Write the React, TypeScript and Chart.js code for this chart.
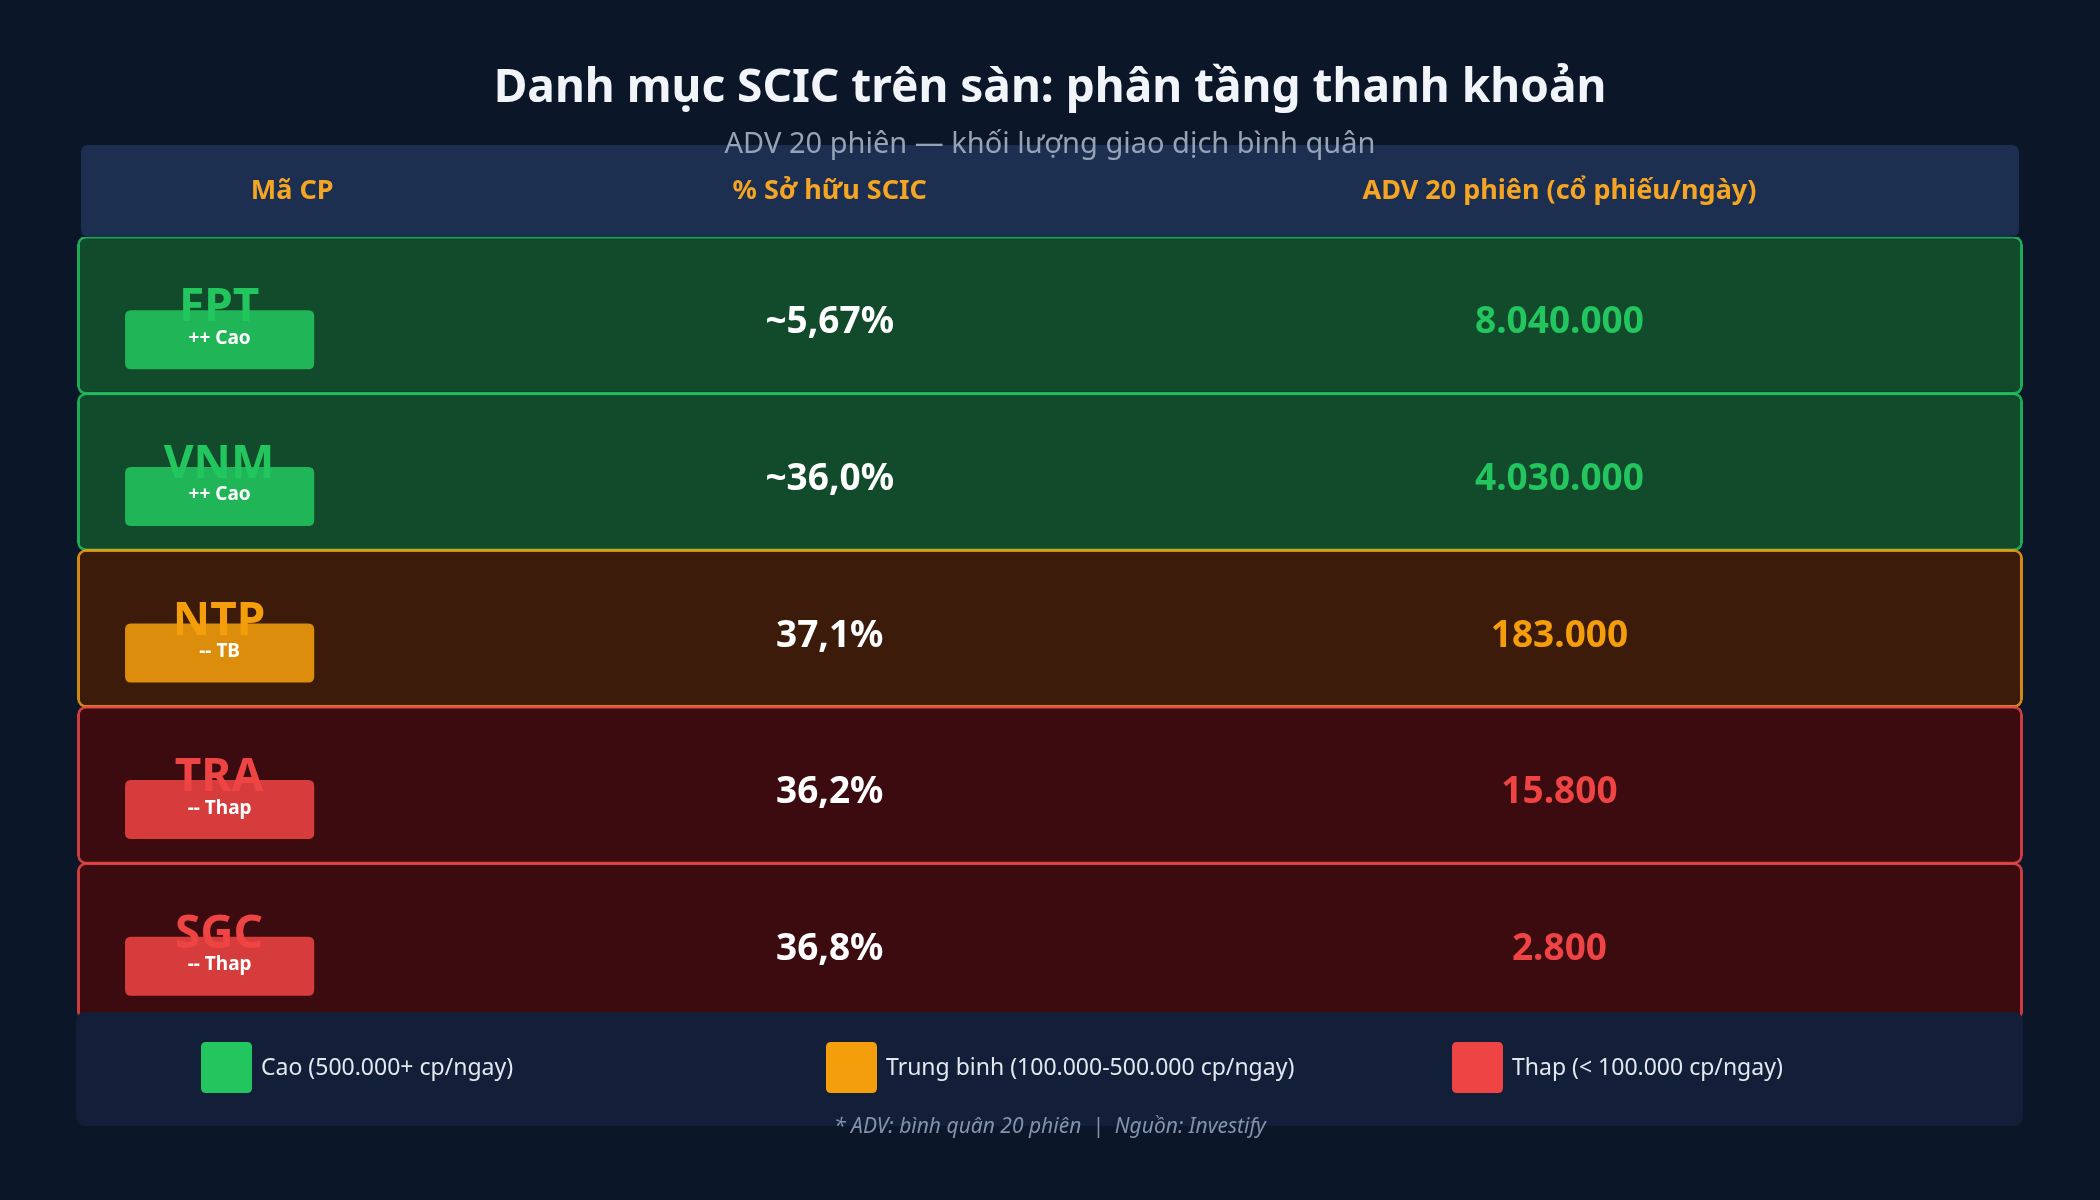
import React, { useEffect, useRef } from "react";
import { Chart, registerables } from "chart.js";

Chart.register(...registerables);

// ---------------- data ----------------
const TITLE = "Danh mục SCIC trên sàn: phân tầng thanh khoản";
const SUBTITLE = "ADV 20 phiên — khối lượng giao dịch bình quân";
const HEADERS = ["Mã CP", "% Sở hữu SCIC", "ADV 20 phiên (cổ phiếu/ngày)"];
const TICKERS = ["FPT", "VNM", "NTP", "TRA", "SGC"];
const OWNERSHIP = [5.67, 36.0, 37.1, 36.2, 36.8];
const OWNERSHIP_APPROX = [true, true, false, false, false];
const OWNERSHIP_DECIMALS = [2, 1, 1, 1, 1];
const ADV = [8040000, 4030000, 183000, 15800, 2800];
const TIER_THRESHOLDS = [500000, 100000];
const TIER_BADGES = ["++ Cao", "-- TB", "-- Thap"];
const TIER_LEGEND = [
  "Cao (500.000+ cp/ngay)",
  "Trung binh (100.000-500.000 cp/ngay)",
  "Thap (< 100.000 cp/ngay)",
];
const FOOTNOTE = "* ADV: bình quân 20 phiên  |  Nguồn: Investify";

// ---------------- styles ----------------
const FONT = "'Noto Sans', 'DejaVu Sans', sans-serif";
const PAGE_BG = "#0b1628";
const HEADER_BG = "#1d2f50";
const LEGEND_BG = "#131f38";
const HEADER_TEXT = "#f5a524";
const TITLE_COLOR = "#f1f5f9";
const SUBTITLE_COLOR = "#94a3b8";
const TIER_COLOR = ["#22c55e", "#f59e0b", "#ef4444"];
const TIER_ROW_BG = ["#124a2c", "#3c1b0a", "#3b0b10"];
const TIER_ROW_BORDER = ["rgba(34,197,94,0.85)", "rgba(245,158,11,0.85)", "rgba(239,68,68,0.85)"];
const TIER_BADGE_BG = ["rgba(34,197,94,0.87)", "rgba(245,158,11,0.87)", "rgba(239,68,68,0.87)"];

// column positions on the 0..100 x scale
const COL_TICKER = 7.3;
const COL_HEADER = [11.06, 38.68, 76.18];
const COL_PCT = 38.68;
const COL_ADV = 76.18;
const BADGE_FROM = 2.47;
const BADGE_TO = 12.19;

const tierOf = (v: number) => (v >= TIER_THRESHOLDS[0] ? 0 : v >= TIER_THRESHOLDS[1] ? 1 : 2);
const fmtInt = (n: number) => String(n).replace(/\B(?=(\d{3})+(?!\d))/g, ".");
const fmtPct = (i: number) =>
  (OWNERSHIP_APPROX[i] ? "~" : "") + OWNERSHIP[i].toFixed(OWNERSHIP_DECIMALS[i]).replace(".", ",") + "%";

function rr(ctx: CanvasRenderingContext2D, x: number, y: number, w: number, h: number, r: number) {
  ctx.beginPath();
  ctx.moveTo(x + r, y);
  ctx.lineTo(x + w - r, y);
  ctx.quadraticCurveTo(x + w, y, x + w, y + r);
  ctx.lineTo(x + w, y + h - r);
  ctx.quadraticCurveTo(x + w, y + h, x + w - r, y + h);
  ctx.lineTo(x + r, y + h);
  ctx.quadraticCurveTo(x, y + h, x, y + h - r);
  ctx.lineTo(x, y + r);
  ctx.quadraticCurveTo(x, y, x + r, y);
  ctx.closePath();
}

const tablePlugin = {
  id: "tableDecor",
  beforeDraw(chart: any) {
    const { ctx, width, height } = chart;
    const xs = chart.scales.x;
    ctx.save();
    ctx.fillStyle = PAGE_BG;
    ctx.fillRect(0, 0, width, height);

    ctx.textAlign = "center";
    ctx.textBaseline = "alphabetic";
    ctx.fillStyle = TITLE_COLOR;
    ctx.font = `bold 46px ${FONT}`;
    ctx.fillText(TITLE, width / 2, 102);

    // header bar
    const l = xs.getPixelForValue(0) + 4;
    const r = xs.getPixelForValue(100) - 4;
    ctx.fillStyle = HEADER_BG;
    rr(ctx, l, 145, r - l, 92, 8);
    ctx.fill();
    ctx.fillStyle = HEADER_TEXT;
    ctx.font = `bold 27px ${FONT}`;
    HEADERS.forEach((h, i) => ctx.fillText(h, xs.getPixelForValue(COL_HEADER[i]), 199));

    ctx.fillStyle = SUBTITLE_COLOR;
    ctx.font = `29px ${FONT}`;
    ctx.fillText(SUBTITLE, width / 2, 153);
    ctx.restore();
  },
  afterDatasetsDraw(chart: any) {
    const { ctx } = chart;
    const xs = chart.scales.x;
    const ys = chart.scales.y;
    ctx.save();
    ctx.textAlign = "center";
    ctx.textBaseline = "alphabetic";
    TICKERS.forEach((t, i) => {
      const tier = tierOf(ADV[i]);
      const c = ys.getPixelForValue(i);
      // ticker
      ctx.fillStyle = TIER_COLOR[tier];
      ctx.font = `bold 46px ${FONT}`;
      ctx.fillText(t, xs.getPixelForValue(COL_TICKER), c + 6);
      // badge
      const bl = xs.getPixelForValue(BADGE_FROM);
      const br = xs.getPixelForValue(BADGE_TO);
      ctx.fillStyle = TIER_BADGE_BG[tier];
      rr(ctx, bl, c - 5, br - bl, 59, 6);
      ctx.fill();
      ctx.fillStyle = "#ffffff";
      ctx.font = `bold 19px ${FONT}`;
      ctx.textBaseline = "middle";
      ctx.fillText(TIER_BADGES[tier], (bl + br) / 2, c + 23);
      ctx.textBaseline = "alphabetic";
      // ownership
      ctx.font = `bold 37px ${FONT}`;
      ctx.fillStyle = "#ffffff";
      ctx.fillText(fmtPct(i), xs.getPixelForValue(COL_PCT), c + 18);
      // ADV
      ctx.fillStyle = TIER_COLOR[tier];
      ctx.fillText(fmtInt(ADV[i]), xs.getPixelForValue(COL_ADV), c + 18);
    });
    ctx.restore();
  },
  afterDraw(chart: any) {
    const { ctx, width } = chart;
    ctx.save();
    ctx.fillStyle = LEGEND_BG;
    rr(ctx, 76, 1012, 1947, 114, 10);
    ctx.fill();
    const sqX = [201, 826, 1452];
    ctx.textAlign = "left";
    ctx.textBaseline = "alphabetic";
    ctx.font = `23px ${FONT}`;
    TIER_LEGEND.forEach((lab, i) => {
      ctx.fillStyle = TIER_COLOR[i];
      rr(ctx, sqX[i], 1042, 51, 51, 5);
      ctx.fill();
      ctx.fillStyle = "#e2e8f0";
      ctx.fillText(lab, sqX[i] + 60, 1075);
    });
    ctx.textAlign = "center";
    ctx.fillStyle = "#8393ad";
    ctx.font = `italic 21px ${FONT}`;
    ctx.fillText(FOOTNOTE, width / 2, 1133);
    ctx.restore();
  },
};

export default function App() {
  const ref = useRef<HTMLCanvasElement>(null);
  useEffect(() => {
    document.body.style.margin = "0";
    document.body.style.background = PAGE_BG;
    const tiers = ADV.map(tierOf);
    const chart = new Chart(ref.current!, {
      type: "bar",
      data: {
        labels: TICKERS,
        datasets: [
          {
            data: TICKERS.map(() => [0, 100]) as any,
            backgroundColor: tiers.map((t) => TIER_ROW_BG[t]),
            borderColor: tiers.map((t) => TIER_ROW_BORDER[t]),
            borderWidth: 3,
            borderRadius: 9,
            borderSkipped: false,
            barPercentage: 1.015,
            categoryPercentage: 1,
          },
        ],
      },
      options: {
        responsive: false,
        animation: false,
        devicePixelRatio: 1,
        indexAxis: "y",
        layout: { padding: { left: 77, right: 77, top: 237, bottom: 180 } },
        plugins: { legend: { display: false }, tooltip: { enabled: false }, title: { display: false } },
        scales: {
          x: { type: "linear", min: 0, max: 100, display: false },
          y: { type: "category", display: false, offset: true },
        },
      },
      plugins: [tablePlugin],
    });
    return () => chart.destroy();
  }, []);
  return (
    <div style={{ position: "fixed", left: 0, top: 0, width: 2100, height: 1200, background: PAGE_BG }}>
      <canvas ref={ref} width={2100} height={1200} style={{ display: "block", width: 2100, height: 1200 }} />
    </div>
  );
}
